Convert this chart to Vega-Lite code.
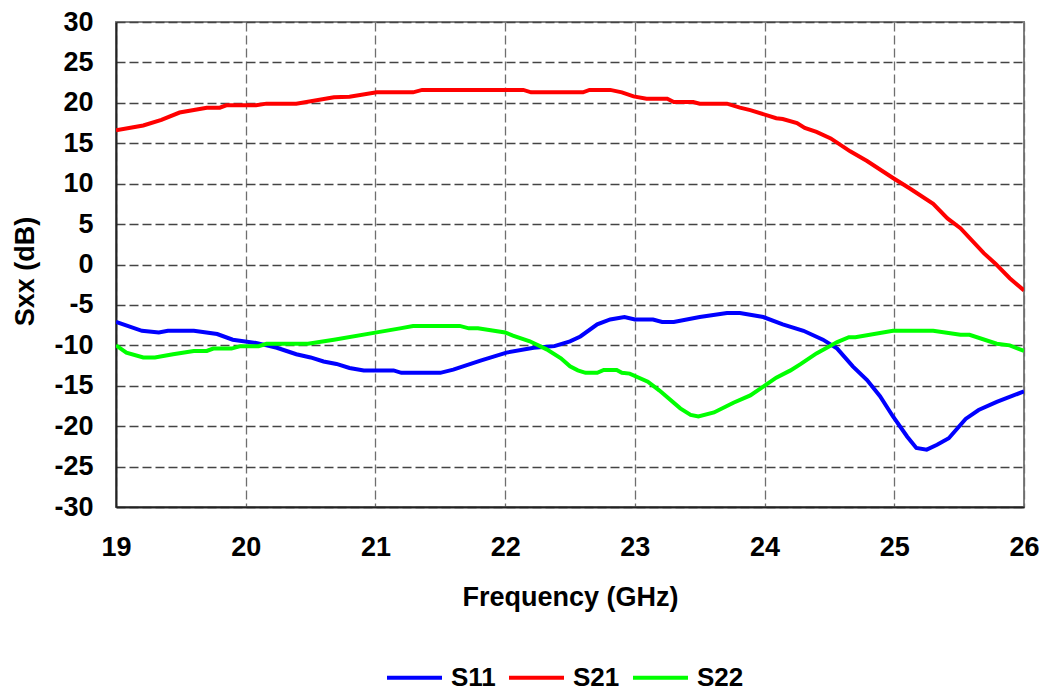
{
  "$schema": "https://vega.github.io/schema/vega-lite/v6.json",
  "width": 908,
  "height": 485,
  "autosize": {"type": "none"},
  "padding": {"left": 116, "top": 22, "right": 20, "bottom": 185},
  "background": "white",
  "config": {
    "font": "Liberation Sans",
    "view": {"stroke": "#808080", "strokeWidth": 2},
    "axis": {
      "labelFont": "Liberation Sans",
      "labelFontWeight": "bold",
      "labelFontSize": 27,
      "labelColor": "black",
      "labelFlush": false,
      "labelOverlap": false,
      "titleFont": "Liberation Sans",
      "titleFontWeight": "bold",
      "titleFontSize": 27,
      "titleColor": "black",
      "ticks": false,
      "tickSize": 0,
      "domainColor": "#222222",
      "domainWidth": 2,
      "grid": true,
      "gridDash": [9, 4],
      "gridWidth": 1.3
    },
    "legend": {
      "labelFont": "Liberation Sans",
      "labelFontWeight": "bold",
      "labelFontSize": 26,
      "labelColor": "black"
    }
  },
  "data": {
    "values": [
      {"f": 19.0, "s": "S21", "v": 16.6}, {"f": 19.21, "s": "S21", "v": 17.2}, {"f": 19.35, "s": "S21", "v": 17.9},
      {"f": 19.49, "s": "S21", "v": 18.8}, {"f": 19.7, "s": "S21", "v": 19.4}, {"f": 19.8, "s": "S21", "v": 19.4},
      {"f": 19.85, "s": "S21", "v": 19.7}, {"f": 20.08, "s": "S21", "v": 19.7}, {"f": 20.16, "s": "S21", "v": 19.9},
      {"f": 20.39, "s": "S21", "v": 19.9}, {"f": 20.68, "s": "S21", "v": 20.7}, {"f": 20.8, "s": "S21", "v": 20.75},
      {"f": 21.01, "s": "S21", "v": 21.3}, {"f": 21.29, "s": "S21", "v": 21.3}, {"f": 21.36, "s": "S21", "v": 21.6},
      {"f": 22.14, "s": "S21", "v": 21.6}, {"f": 22.2, "s": "S21", "v": 21.3}, {"f": 22.6, "s": "S21", "v": 21.3},
      {"f": 22.65, "s": "S21", "v": 21.6}, {"f": 22.81, "s": "S21", "v": 21.6}, {"f": 22.9, "s": "S21", "v": 21.3},
      {"f": 22.99, "s": "S21", "v": 20.8}, {"f": 23.09, "s": "S21", "v": 20.5}, {"f": 23.25, "s": "S21", "v": 20.5},
      {"f": 23.3, "s": "S21", "v": 20.1}, {"f": 23.45, "s": "S21", "v": 20.1}, {"f": 23.5, "s": "S21", "v": 19.9},
      {"f": 23.71, "s": "S21", "v": 19.9}, {"f": 23.81, "s": "S21", "v": 19.4}, {"f": 23.89, "s": "S21", "v": 19.1},
      {"f": 24.09, "s": "S21", "v": 18.1}, {"f": 24.14, "s": "S21", "v": 18.0}, {"f": 24.25, "s": "S21", "v": 17.5},
      {"f": 24.31, "s": "S21", "v": 16.9}, {"f": 24.4, "s": "S21", "v": 16.4}, {"f": 24.51, "s": "S21", "v": 15.6},
      {"f": 24.66, "s": "S21", "v": 14.0}, {"f": 24.79, "s": "S21", "v": 12.8}, {"f": 24.99, "s": "S21", "v": 10.7},
      {"f": 25.12, "s": "S21", "v": 9.4}, {"f": 25.3, "s": "S21", "v": 7.5}, {"f": 25.41, "s": "S21", "v": 5.7},
      {"f": 25.51, "s": "S21", "v": 4.5}, {"f": 25.69, "s": "S21", "v": 1.4}, {"f": 25.78, "s": "S21", "v": 0.1},
      {"f": 25.89, "s": "S21", "v": -1.7}, {"f": 26.0, "s": "S21", "v": -3.2},

      {"f": 19.0, "s": "S11", "v": -7.1}, {"f": 19.2, "s": "S11", "v": -8.2}, {"f": 19.33, "s": "S11", "v": -8.4},
      {"f": 19.4, "s": "S11", "v": -8.2}, {"f": 19.6, "s": "S11", "v": -8.2}, {"f": 19.78, "s": "S11", "v": -8.6},
      {"f": 19.9, "s": "S11", "v": -9.3}, {"f": 20.08, "s": "S11", "v": -9.7}, {"f": 20.24, "s": "S11", "v": -10.3},
      {"f": 20.39, "s": "S11", "v": -11.1}, {"f": 20.5, "s": "S11", "v": -11.5}, {"f": 20.6, "s": "S11", "v": -12.0},
      {"f": 20.7, "s": "S11", "v": -12.3}, {"f": 20.8, "s": "S11", "v": -12.8}, {"f": 20.91, "s": "S11", "v": -13.1},
      {"f": 21.14, "s": "S11", "v": -13.1}, {"f": 21.2, "s": "S11", "v": -13.4}, {"f": 21.5, "s": "S11", "v": -13.4},
      {"f": 21.6, "s": "S11", "v": -13.0}, {"f": 21.81, "s": "S11", "v": -11.9}, {"f": 22.01, "s": "S11", "v": -10.9},
      {"f": 22.22, "s": "S11", "v": -10.3}, {"f": 22.38, "s": "S11", "v": -10.1}, {"f": 22.5, "s": "S11", "v": -9.5},
      {"f": 22.58, "s": "S11", "v": -8.9}, {"f": 22.71, "s": "S11", "v": -7.4}, {"f": 22.81, "s": "S11", "v": -6.8},
      {"f": 22.92, "s": "S11", "v": -6.5}, {"f": 23.0, "s": "S11", "v": -6.8}, {"f": 23.14, "s": "S11", "v": -6.8},
      {"f": 23.21, "s": "S11", "v": -7.1}, {"f": 23.3, "s": "S11", "v": -7.1}, {"f": 23.5, "s": "S11", "v": -6.5},
      {"f": 23.71, "s": "S11", "v": -6.0}, {"f": 23.81, "s": "S11", "v": -6.0}, {"f": 23.99, "s": "S11", "v": -6.5},
      {"f": 24.14, "s": "S11", "v": -7.4}, {"f": 24.3, "s": "S11", "v": -8.2}, {"f": 24.45, "s": "S11", "v": -9.3},
      {"f": 24.56, "s": "S11", "v": -10.4}, {"f": 24.68, "s": "S11", "v": -12.6}, {"f": 24.79, "s": "S11", "v": -14.3},
      {"f": 24.89, "s": "S11", "v": -16.3}, {"f": 24.99, "s": "S11", "v": -18.8}, {"f": 25.1, "s": "S11", "v": -21.3},
      {"f": 25.17, "s": "S11", "v": -22.7}, {"f": 25.25, "s": "S11", "v": -22.9}, {"f": 25.33, "s": "S11", "v": -22.3},
      {"f": 25.42, "s": "S11", "v": -21.5}, {"f": 25.55, "s": "S11", "v": -19.1}, {"f": 25.65, "s": "S11", "v": -18.0},
      {"f": 25.79, "s": "S11", "v": -17.0}, {"f": 26.0, "s": "S11", "v": -15.7},

      {"f": 19.0, "s": "S22", "v": -10.0}, {"f": 19.08, "s": "S22", "v": -10.9}, {"f": 19.21, "s": "S22", "v": -11.5},
      {"f": 19.3, "s": "S22", "v": -11.5}, {"f": 19.44, "s": "S22", "v": -11.1}, {"f": 19.6, "s": "S22", "v": -10.7},
      {"f": 19.7, "s": "S22", "v": -10.7}, {"f": 19.75, "s": "S22", "v": -10.4}, {"f": 19.89, "s": "S22", "v": -10.4},
      {"f": 19.96, "s": "S22", "v": -10.1}, {"f": 20.1, "s": "S22", "v": -10.1}, {"f": 20.16, "s": "S22", "v": -9.8},
      {"f": 20.48, "s": "S22", "v": -9.8}, {"f": 20.68, "s": "S22", "v": -9.3}, {"f": 21.01, "s": "S22", "v": -8.4},
      {"f": 21.19, "s": "S22", "v": -7.9}, {"f": 21.29, "s": "S22", "v": -7.6}, {"f": 21.65, "s": "S22", "v": -7.6},
      {"f": 21.72, "s": "S22", "v": -7.9}, {"f": 21.79, "s": "S22", "v": -7.9}, {"f": 22.0, "s": "S22", "v": -8.4},
      {"f": 22.06, "s": "S22", "v": -8.8}, {"f": 22.19, "s": "S22", "v": -9.5}, {"f": 22.32, "s": "S22", "v": -10.5},
      {"f": 22.43, "s": "S22", "v": -11.6}, {"f": 22.5, "s": "S22", "v": -12.6}, {"f": 22.56, "s": "S22", "v": -13.1},
      {"f": 22.62, "s": "S22", "v": -13.4}, {"f": 22.71, "s": "S22", "v": -13.4}, {"f": 22.76, "s": "S22", "v": -13.05},
      {"f": 22.86, "s": "S22", "v": -13.05}, {"f": 22.9, "s": "S22", "v": -13.4}, {"f": 22.96, "s": "S22", "v": -13.5},
      {"f": 23.1, "s": "S22", "v": -14.5}, {"f": 23.19, "s": "S22", "v": -15.6}, {"f": 23.35, "s": "S22", "v": -17.8},
      {"f": 23.43, "s": "S22", "v": -18.6}, {"f": 23.49, "s": "S22", "v": -18.8}, {"f": 23.61, "s": "S22", "v": -18.3},
      {"f": 23.76, "s": "S22", "v": -17.1}, {"f": 23.89, "s": "S22", "v": -16.2}, {"f": 23.99, "s": "S22", "v": -15.1},
      {"f": 24.09, "s": "S22", "v": -14.0}, {"f": 24.2, "s": "S22", "v": -13.1}, {"f": 24.28, "s": "S22", "v": -12.3},
      {"f": 24.4, "s": "S22", "v": -11.0}, {"f": 24.56, "s": "S22", "v": -9.6}, {"f": 24.65, "s": "S22", "v": -9.0},
      {"f": 24.7, "s": "S22", "v": -9.0}, {"f": 24.99, "s": "S22", "v": -8.2}, {"f": 25.3, "s": "S22", "v": -8.2},
      {"f": 25.51, "s": "S22", "v": -8.7}, {"f": 25.58, "s": "S22", "v": -8.7}, {"f": 25.79, "s": "S22", "v": -9.8},
      {"f": 25.89, "s": "S22", "v": -10.0}, {"f": 26.0, "s": "S22", "v": -10.7}
    ]
  },
  "mark": {"type": "line", "strokeWidth": 4, "clip": true},
  "encoding": {
    "x": {
      "field": "f",
      "type": "quantitative",
      "title": "Frequency (GHz)",
      "scale": {"domain": [19, 26], "nice": false, "zero": false},
      "axis": {
        "values": [19, 20, 21, 22, 23, 24, 25, 26],
        "labelExpr": "toString(datum.value)",
        "labelPadding": 27,
        "gridColor": "#6e6e6e",
        "titleBaseline": "alphabetic",
        "titleY": 98,
        "titleAnchor": "middle"
      }
    },
    "y": {
      "field": "v",
      "type": "quantitative",
      "title": "Sxx (dB)",
      "scale": {"domain": [-30, 30], "nice": false, "zero": false},
      "axis": {
        "values": [-30, -25, -20, -15, -10, -5, 0, 5, 10, 15, 20, 25, 30],
        "labelExpr": "toString(datum.value)",
        "labelPadding": 23,
        "gridColor": "#444444",
        "titleBaseline": "alphabetic",
        "titleX": -83,
        "titleY": 249,
        "titleAngle": -90
      }
    },
    "color": {
      "field": "s",
      "type": "nominal",
      "scale": {"domain": ["S11", "S21", "S22"], "range": ["#0000ff", "#ff0000", "#00ff00"]},
      "legend": {
        "title": null,
        "orient": "none",
        "direction": "horizontal",
        "legendX": 269,
        "legendY": 626,
        "symbolType": "stroke",
        "symbolSize": 3025,
        "symbolStrokeWidth": 4,
        "labelOffset": 7,
        "columnPadding": 5,
        "padding": 0
      }
    }
  }
}
